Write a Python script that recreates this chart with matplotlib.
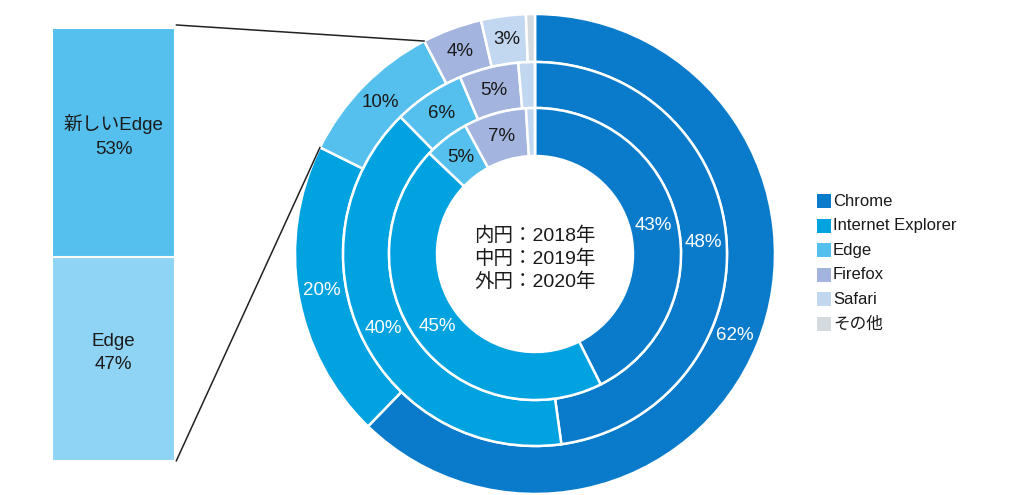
import matplotlib
matplotlib.use("Agg")
import matplotlib.pyplot as plt
from matplotlib.patches import ConnectionPatch
import numpy as np

plt.rcParams['font.family'] = ['Liberation Sans', 'Noto Sans CJK JP', 'DejaVu Sans']

browsers = ["Chrome", "Internet Explorer", "Edge", "Firefox", "Safari", "その他"]
colors = ["#0a7bcb", "#00a2e0", "#55c0ee", "#a3b5df", "#c2d7f0", "#d3dbe1"]
share_2018 = [43, 45, 5, 7, 1, 0]
share_2019 = [48, 40, 6, 5, 1.4, 0]
share_2020 = [62, 20, 10, 4, 3, 0.6]
label_2018 = ["43%", "45%", "5%", "7%", "", ""]
label_2019 = ["48%", "40%", "6%", "5%", "", ""]
label_2020 = ["62%", "20%", "10%", "4%", "3%", ""]

edge_split_labels = ["Edge\n47%", "新しいEdge\n53%"]
edge_split_values = [47, 53]
edge_split_colors = ["#8fd4f4", "#55c0ee"]

W, H = 1030, 495
fig = plt.figure(figsize=(W / 100, H / 100), dpi=100)
ax = fig.add_axes([0, 0, 1, 1])
cx, cy = 535, H - 254
R_out, R_mid, R_in, R_hole = 240, 192, 146, 98

text_colors = ["white", "white", "#1a1a1a", "#1a1a1a", "#1a1a1a", "#1a1a1a"]

rings = [(share_2020, label_2020, R_out, R_out - R_mid),
         (share_2019, label_2019, R_mid, R_mid - R_in),
         (share_2018, label_2018, R_in, R_in - R_hole)]
outer_wedges = None
for vals, labs, r, w in rings:
    wedges, _ = ax.pie(vals, colors=colors, startangle=90, counterclock=False,
                       radius=r, center=(cx, cy), frame=True,
                       wedgeprops=dict(width=w, edgecolor="white", linewidth=1.8))
    if outer_wedges is None:
        outer_wedges = wedges
    rm = r - w / 2
    for wd, lab, tc in zip(wedges, labs, text_colors):
        if not lab:
            continue
        ang = np.deg2rad((wd.theta1 + wd.theta2) / 2)
        ax.text(cx + rm * np.cos(ang), cy + rm * np.sin(ang), lab,
                ha="center", va="center", fontsize=13.5, color=tc)

ax.set_xlim(0, W)
ax.set_ylim(0, H)
ax.set_aspect("equal")
ax.axis("off")

center_lines = ["内円：2018年", "中円：2019年", "外円：2020年"]
for i, t in enumerate(center_lines):
    ax.text(cx, H - (236 + 23 * i), t, ha="center", va="center", fontsize=14,
            color="#1a1a1a")

# legend
for i, (b, c) in enumerate(zip(browsers, colors)):
    y = H - (201 + 24.6 * i)
    ax.add_patch(plt.Rectangle((817, y - 7), 14, 14, color=c, lw=0))
    ax.text(833, y, b, ha="left", va="center", fontsize=12, color="#1a1a1a")

# stacked bar for Edge breakdown
bax = fig.add_axes([52 / W, (H - 461) / H, 123 / W, 433 / H])
bottom = 0
for v, lab, c in zip(edge_split_values, edge_split_labels, edge_split_colors):
    bax.bar(0, v, bottom=bottom, width=1, color=c, edgecolor="white", linewidth=1.5)
    bax.text(0, bottom + v / 2 + 1.5, lab,
             ha="center", va="center", fontsize=13.5, color="#1a1a1a",
             linespacing=1.5)
    bottom += v
bax.set_xlim(-0.5, 0.5)
bax.set_ylim(0, 100)
bax.axis("off")

edge_w = outer_wedges[2]
for frac_y, th in [(1.007, edge_w.theta1), (0, edge_w.theta2)]:
    a = np.deg2rad(th)
    pt = (cx + R_out * np.cos(a), cy + R_out * np.sin(a))
    con = ConnectionPatch(xyA=(1.01, frac_y), coordsA=bax.transAxes,
                          xyB=pt, coordsB=ax.transData, color="#222222", lw=1.1)
    fig.add_artist(con)

fig.savefig("out.png", dpi=100)
